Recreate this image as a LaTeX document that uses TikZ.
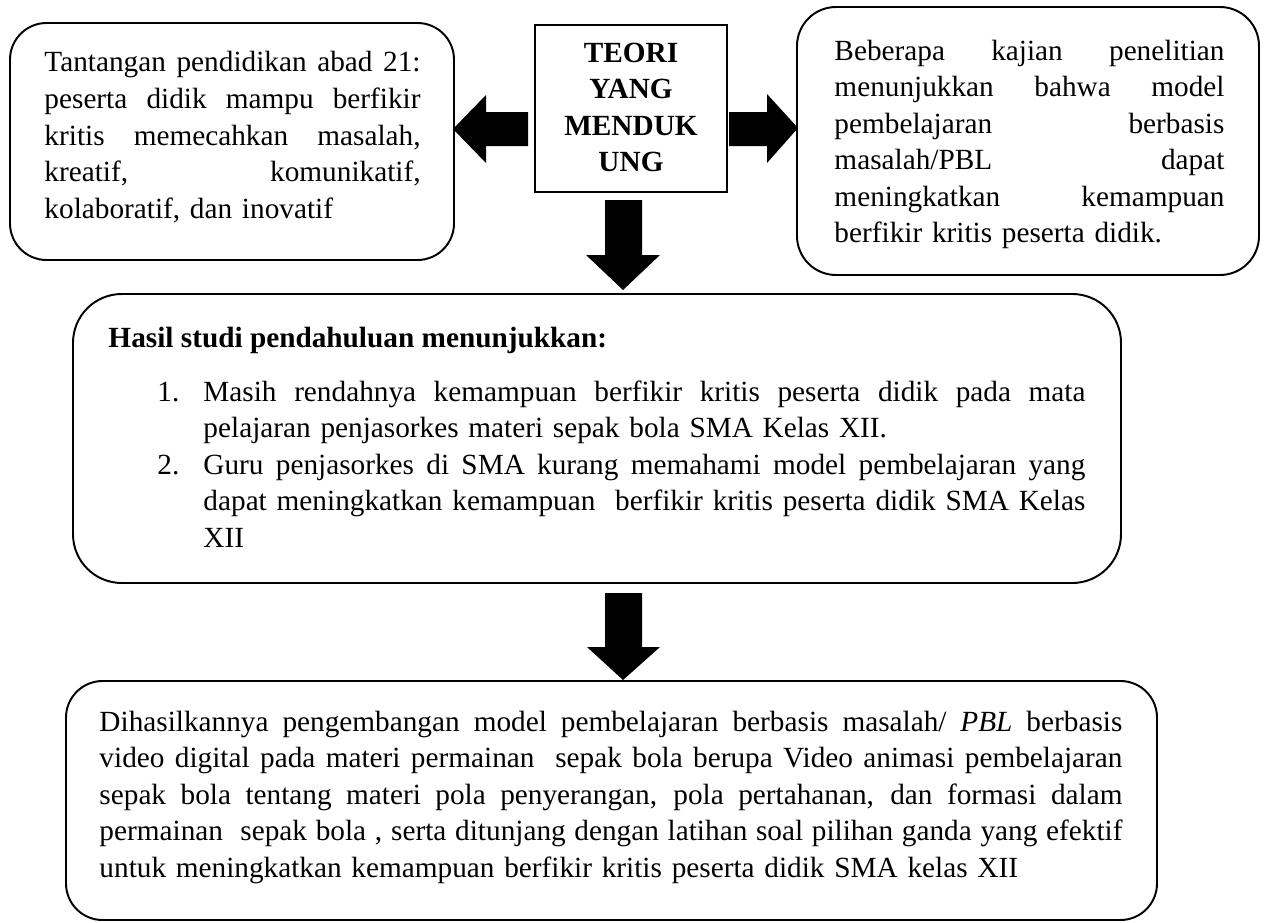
\documentclass[tikz,border=0pt]{standalone}
\usepackage{fontspec}
\setmainfont{Liberation Serif}
\usetikzlibrary{fit}
% justified line: spaces share the extra width equally
\newcommand\jline[1]{\hbox to\hsize{\spaceskip=\fontdimen2\font plus 1fil minus 1pt\relax #1}\par\noindent\ignorespaces}
\newcommand\lline[1]{#1\par\noindent\ignorespaces}
\newcommand\numlab[1]{\llap{\hbox to 18.9pt{#1\hfil}}}
\tikzset{
  rbox/.style={draw, line width=0.8pt, rounded corners=#1, inner sep=0pt},
  sbox/.style={draw, line width=0.7pt, inner sep=0pt},
  txt/.style={anchor=base west, inner sep=0pt, font=\fontsize{12}{15}\selectfont},
  blockarrow/.style={fill=black, draw=none}
}
\begin{document}
\begin{tikzpicture}[x=0.41pt,y=-0.41pt]
\useasboundingbox (0,0) rectangle (1264,923);
% boxes
\node[rbox=15pt, fit={(10,23) (454,260)}] (L) {};
\node[sbox, fit={(535,25) (727,192)}] (C) {};
\node[rbox=16pt, fit={(797,7) (1259,275)}] (R) {};
\node[rbox=20pt, fit={(73,294) (1121,583)}] (M) {};
\node[rbox=15pt, fit={(66,681) (1157,920)}] (B) {};
% texts
\node[txt, text width=154.2pt] (Lt) at (44,72) {%
\jline{Tantangan pendidikan abad 21:}
\jline{peserta didik mampu berfikir}
\jline{kritis memecahkan masalah,}
\jline{kreatif, komunikatif,}
\lline{kolaboratif, dan inovatif}};
\node[anchor=base, inner sep=0pt, text width=75pt, align=center,
      font=\bfseries\fontsize{12}{15}\selectfont] (Ct) at (631,62)
      {TEORI\\YANG\\MENDUK\\UNG};
\node[txt, text width=159.9pt] (Rt) at (834,60) {%
\jline{Beberapa kajian penelitian}
\jline{menunjukkan bahwa model}
\jline{pembelajaran berbasis}
\jline{masalah/PBL dapat}
\jline{meningkatkan kemampuan}
\lline{berfikir kritis peserta didik.}};
\node[txt, font=\bfseries\fontsize{12}{15}\selectfont] (Mh) at (108,347)
  {Hasil studi pendahuluan menunjukkan:};
\node[txt, text width=361.6pt] (Mt) at (203,401) {%
\jline{\numlab{1.}Masih rendahnya kemampuan berfikir kritis peserta didik pada mata}
\lline{pelajaran penjasorkes materi sepak bola SMA Kelas XII.}
\jline{\numlab{2.}Guru penjasorkes di SMA kurang memahami model pembelajaran yang}
\jline{dapat meningkatkan kemampuan\ \ berfikir kritis peserta didik SMA Kelas}
\lline{XII}};
\node[txt, text width=419.4pt] (Bt) at (99,731) {%
\jline{Dihasilkannya pengembangan model pembelajaran berbasis masalah/ \textit{PBL} berbasis}
\jline{video digital pada materi permainan\ \ sepak bola berupa Video animasi pembelajaran}
\jline{sepak bola tentang materi pola penyerangan, pola pertahanan, dan formasi dalam}
\jline{permainan\ \ sepak bola , serta ditunjang dengan latihan soal pilihan ganda yang efektif}
\lline{untuk meningkatkan kemampuan berfikir kritis peserta didik SMA kelas XII}};
% block arrows
\fill[blockarrow] (528,112) -- (486,112) -- (486,95) -- (453,129) -- (486,163) -- (486,146) -- (528,146) -- cycle;
\fill[blockarrow] (729,112) -- (767,112) -- (767,94) -- (798,128) -- (767,163) -- (767,146) -- (729,146) -- cycle;
\fill[blockarrow] (605,200) -- (642,200) -- (642,255) -- (660,255) -- (623,290) -- (586,255) -- (605,255) -- cycle;
\fill[blockarrow] (605,593) -- (642,593) -- (642,647) -- (660,647) -- (623,680) -- (587,647) -- (605,647) -- cycle;
\end{tikzpicture}
\end{document}
